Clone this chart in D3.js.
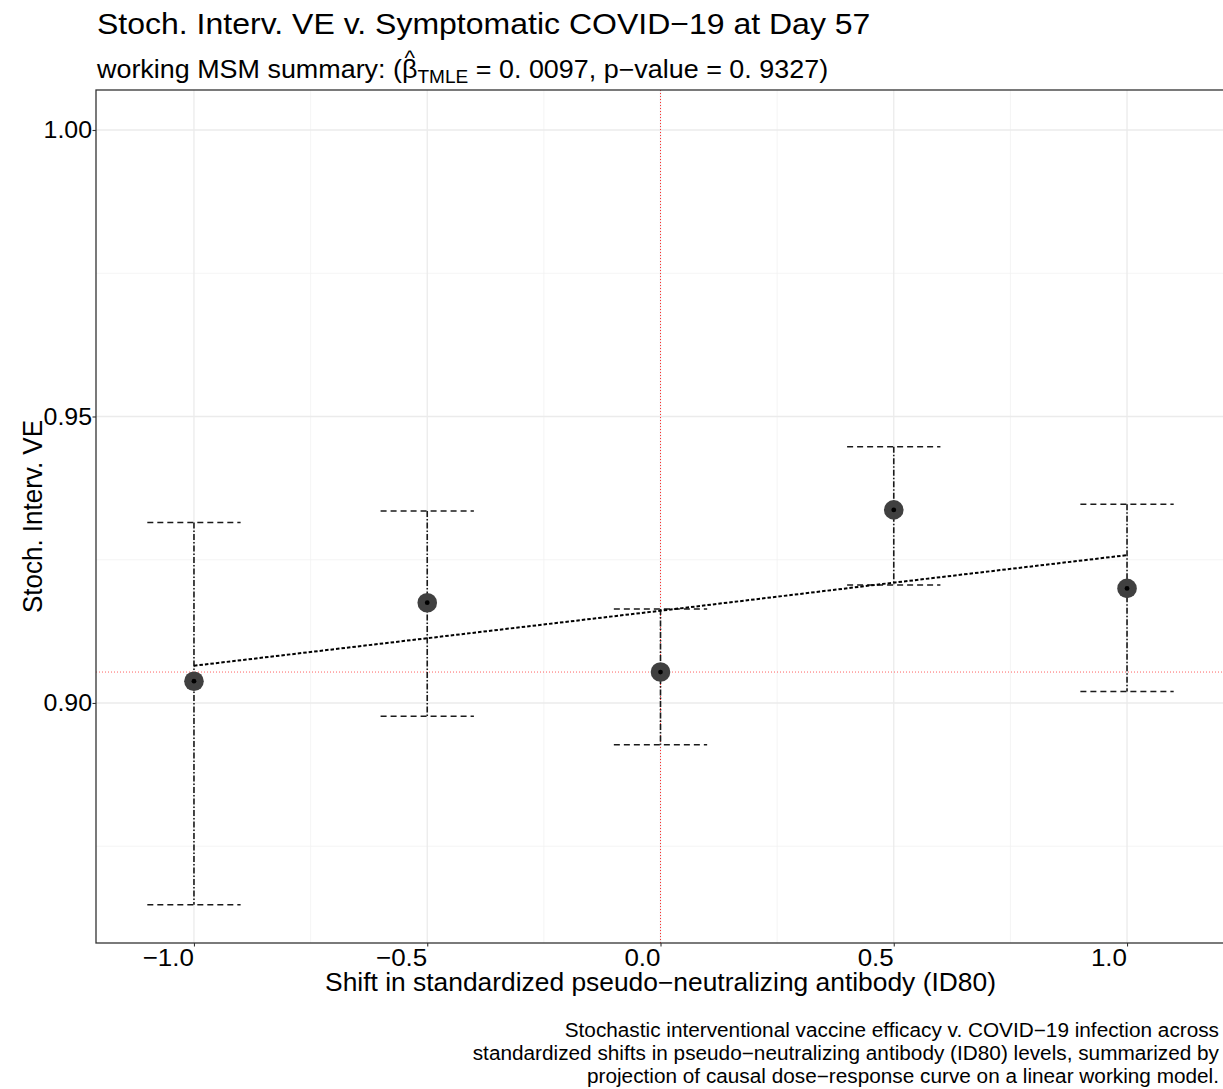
<!DOCTYPE html>
<html>
<head>
<meta charset="utf-8">
<script src="https://cdn.jsdelivr.net/npm/d3@7"></script>
<style>
  html, body { margin: 0; padding: 0; background: #fff; }
  svg { display: block; font-family: "Liberation Sans", Arial, Helvetica, sans-serif; }
</style>
</head>
<body>
<svg id="chart" width="1223" height="1089"></svg>
<script>
// Shifts in standardized ID80 and stochastic-interventional VE estimates
const shifts = [-1.0, -0.5, 0.0, 0.5, 1.0];
const veEstimate = [0.9038, 0.9175, 0.9054, 0.9337, 0.9200];
const veLower = [0.8648, 0.8977, 0.8927, 0.9206, 0.9020];
const veUpper = [0.9315, 0.9335, 0.9164, 0.9447, 0.9347];
// Linear working MSM projection evaluated at each shift
const msmFit = [0.9065, 0.9113, 0.9161, 0.9210, 0.9258];

const xTicks = [-1.0, -0.5, 0.0, 0.5, 1.0];
const xMinor = [-0.75, -0.25, 0.25, 0.75];
const yTicks = [0.90, 0.95, 1.00];
const yMinor = [0.875, 0.925, 0.975];

const titleText = "Stoch. Interv. VE v. Symptomatic COVID\u221219 at Day 57";
const xLabel = "Shift in standardized pseudo\u2212neutralizing antibody (ID80)";
const yLabel = "Stoch. Interv. VE";
const captionLines = [
  "Stochastic interventional vaccine efficacy v. COVID\u221219 infection across",
  "standardized shifts in pseudo\u2212neutralizing antibody (ID80) levels, summarized by",
  "projection of causal dose\u2212response curve on a linear working model."
];

const SX = 1.06; // slightly wide lettering
const svg = d3.select("#chart");
const panel = { left: 96, top: 90, right: 1225, bottom: 943 };

const x = d3.scaleLinear().domain([-1.21, 1.21]).range([panel.left, panel.right]);
const y = d3.scaleLinear().domain([0.85811, 1.00698]).range([panel.bottom, panel.top]);

const g = svg.append("g");

// grid
g.selectAll(".ymin").data(yMinor).join("line")
  .attr("x1", panel.left).attr("x2", panel.right)
  .attr("y1", d => y(d)).attr("y2", d => y(d))
  .attr("stroke", "#f1f1f1").attr("stroke-width", 0.8);
g.selectAll(".xmin").data(xMinor).join("line")
  .attr("y1", panel.top).attr("y2", panel.bottom)
  .attr("x1", d => x(d)).attr("x2", d => x(d))
  .attr("stroke", "#f1f1f1").attr("stroke-width", 0.8);
g.selectAll(".ymaj").data(yTicks).join("line")
  .attr("x1", panel.left).attr("x2", panel.right)
  .attr("y1", d => y(d)).attr("y2", d => y(d))
  .attr("stroke", "#ebebeb").attr("stroke-width", 1.3);
g.selectAll(".xmaj").data(xTicks).join("line")
  .attr("y1", panel.top).attr("y2", panel.bottom)
  .attr("x1", d => x(d)).attr("x2", d => x(d))
  .attr("stroke", "#ebebeb").attr("stroke-width", 1.3);

// reference lines: no shift, and VE at no shift
g.append("line")
  .attr("x1", x(0)).attr("x2", x(0)).attr("y1", panel.top).attr("y2", panel.bottom)
  .attr("stroke", "#ff3030").attr("stroke-width", 1).attr("stroke-dasharray", "1,2");
g.append("line")
  .attr("x1", panel.left).attr("x2", panel.right)
  .attr("y1", y(veEstimate[2])).attr("y2", y(veEstimate[2]))
  .attr("stroke", "#ff6060").attr("stroke-width", 1).attr("stroke-dasharray", "1,2");

// error bars
const capHalf = 0.1;
const bars = g.selectAll(".bar").data(shifts.map((s, i) => ({ s, lo: veLower[i], hi: veUpper[i], est: veEstimate[i] })))
  .join("g");
bars.append("line")
  .attr("x1", d => x(d.s)).attr("x2", d => x(d.s))
  .attr("y1", d => y(d.hi)).attr("y2", d => y(d.lo))
  .attr("stroke", "#1a1a1a").attr("stroke-width", 1.6).attr("stroke-dasharray", "6,2,1.5,2");
bars.append("line")
  .attr("x1", d => x(d.s - capHalf)).attr("x2", d => x(d.s + capHalf))
  .attr("y1", d => y(d.hi)).attr("y2", d => y(d.hi))
  .attr("stroke", "#1a1a1a").attr("stroke-width", 1.5).attr("stroke-dasharray", "6,4");
bars.append("line")
  .attr("x1", d => x(d.s - capHalf)).attr("x2", d => x(d.s + capHalf))
  .attr("y1", d => y(d.lo)).attr("y2", d => y(d.lo))
  .attr("stroke", "#1a1a1a").attr("stroke-width", 1.5).attr("stroke-dasharray", "6,4");

// points
bars.append("circle")
  .attr("cx", d => x(d.s)).attr("cy", d => y(d.est)).attr("r", 9.8)
  .attr("fill", "#404040");
bars.append("circle")
  .attr("cx", d => x(d.s)).attr("cy", d => y(d.est)).attr("r", 2.4)
  .attr("fill", "#000");

// MSM linear projection
const msmLine = d3.line().x((d, i) => x(shifts[i])).y(d => y(d));
g.append("path")
  .datum(msmFit)
  .attr("d", msmLine)
  .attr("fill", "none").attr("stroke", "#000").attr("stroke-width", 2)
  .attr("stroke-dasharray", "3.5,2");

// panel border
g.append("rect")
  .attr("x", panel.left).attr("y", panel.top)
  .attr("width", panel.right - panel.left).attr("height", panel.bottom - panel.top)
  .attr("fill", "none").attr("stroke", "#333").attr("stroke-width", 1.3);

// text placed at (px, py), widened horizontally by SX
function label(parent, px, py, size, anchor, str, rot) {
  return parent.append("text")
    .attr("transform", `translate(${px},${py}) scale(${SX},1)` + (rot ? ` rotate(${rot})` : ""))
    .attr("text-anchor", anchor).attr("font-size", size).attr("fill", "#000").text(str);
}

// axes: ticks only, labels drawn separately
const xAxis = d3.axisBottom(x).tickValues(xTicks).tickSize(3.5).tickFormat("");
const xg = svg.append("g").attr("transform", `translate(0,${panel.bottom})`).call(xAxis);
xg.select(".domain").remove();
xg.selectAll(".tick line").attr("stroke", "#333").attr("stroke-width", 1.1);
xTicks.forEach(v => {
  label(svg, x(v), 966, 24.5, "end", d3.format(".1f")(v).replace("-", "\u2212"));
});

const yAxis = d3.axisLeft(y).tickValues(yTicks).tickSize(3.5).tickFormat("");
const yg = svg.append("g").attr("transform", `translate(${panel.left},0)`).call(yAxis);
yg.select(".domain").remove();
yg.selectAll(".tick line").attr("stroke", "#333").attr("stroke-width", 1.1);
yTicks.forEach(v => {
  label(svg, 92, y(v) + 8.5, 23.5, "end", d3.format(".2f")(v));
});

// axis titles
label(svg, (panel.left + panel.right) / 2, 991, 24.9, "middle", xLabel);
label(svg, 42, (panel.top + panel.bottom) / 2, 26, "middle", yLabel, -90);

// title and subtitle
label(svg, 97, 34, 30.2, "start", titleText);

const sub = svg.append("text")
  .attr("transform", `translate(97,78) scale(${SX},1)`)
  .attr("font-size", 25.4).attr("fill", "#000");
const lead = "working MSM summary: (";
sub.append("tspan").text(lead);
sub.append("tspan").text("\u03b2");
sub.append("tspan").attr("font-size", 18).attr("dy", 5).text("TMLE");
sub.append("tspan").attr("dy", -5).text(" = 0. 0097, p\u2212value = 0. 9327)");

// hat over beta
const subNode = sub.node();
const p0 = subNode.getStartPositionOfChar(lead.length);
const p1 = subNode.getEndPositionOfChar(lead.length);
sub.append("tspan")
  .attr("x", (p0.x + p1.x) / 2).attr("y", -13)
  .attr("text-anchor", "middle").attr("font-size", 21).text("^");

// caption
const cap = svg.append("text")
  .attr("transform", `translate(1219,0) scale(${SX},1)`)
  .attr("text-anchor", "end").attr("font-size", 19.6).attr("fill", "#000");
captionLines.forEach((t, i) => {
  cap.append("tspan").attr("x", 0).attr("y", 1037 + i * 23).text(t);
});
</script>
</body>
</html>
